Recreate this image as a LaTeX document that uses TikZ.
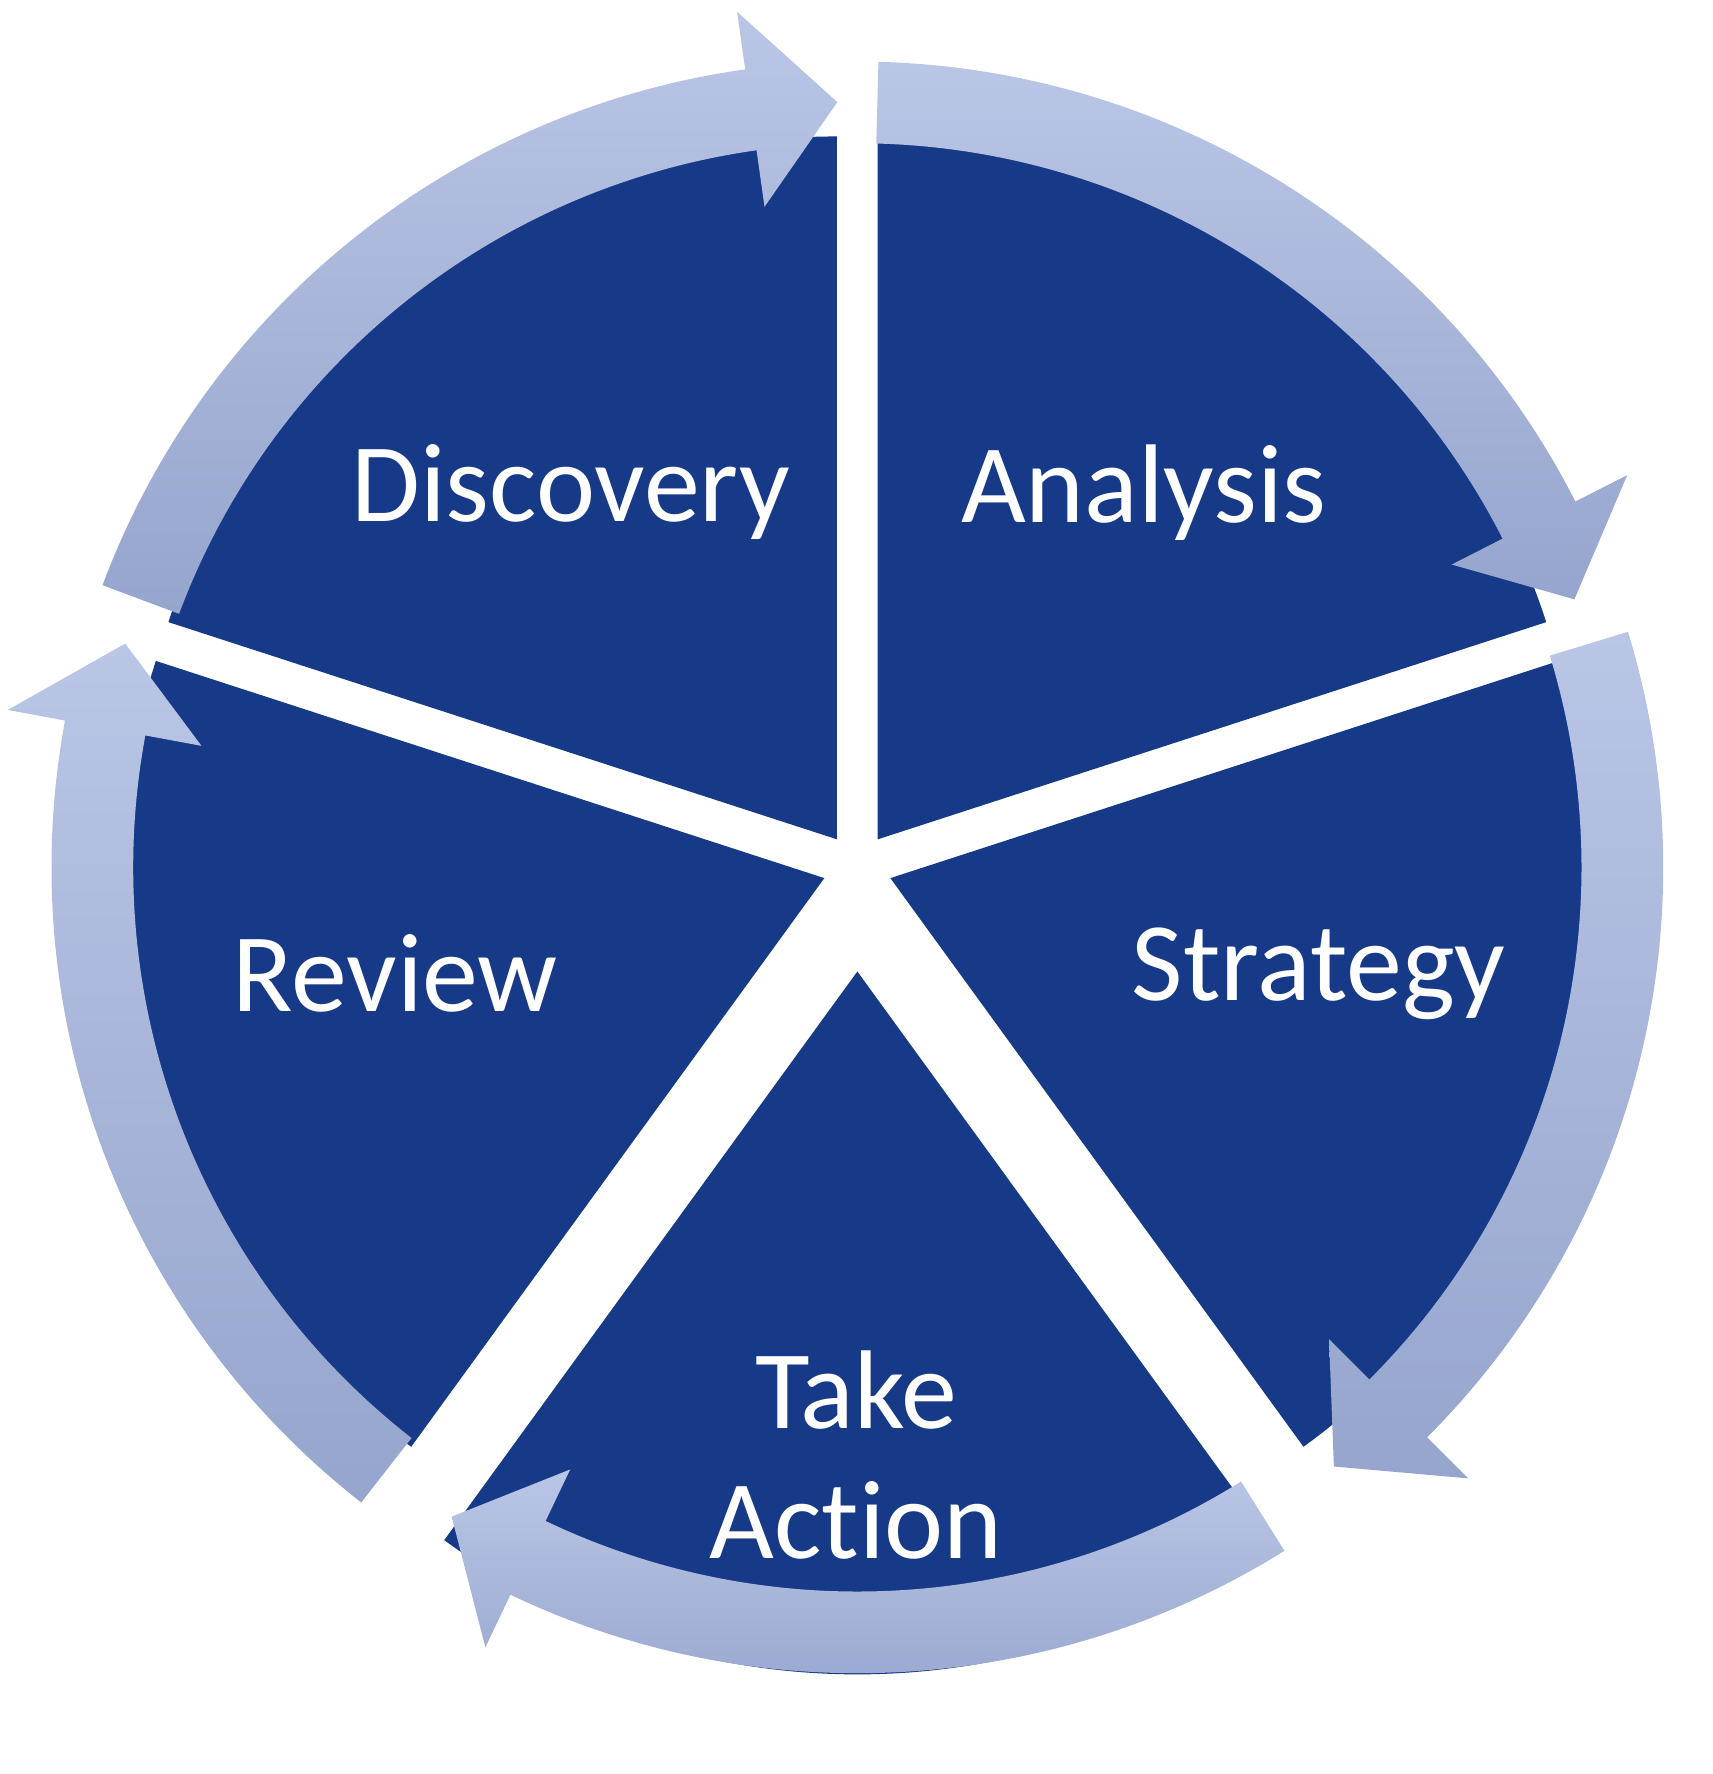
\documentclass[tikz,border=0pt]{standalone}
\usepackage{fontspec}
\setmainfont[Ligatures=NoCommon]{Carlito}
\usetikzlibrary{calc}
\begin{document}
\begin{tikzpicture}[x=0.5pt,y=0.5pt,
  wedge/.style={fill={rgb,255:red,23;green,58;blue,136}},
  ring/.style={top color={rgb,255:red,186;green,198;blue,230},bottom color={rgb,255:red,150;green,165;blue,205},draw=none},
  lbl/.style={text=white,font=\fontsize{50}{58}\selectfont,align=center}]
\useasboundingbox (0,0) rectangle (1530,1585);
\coordinate (c) at (766,810);

% Wedges
\foreach \bis/\d [count=\i] in {126/31,54/31,-18/31,-90/93,198/31}{
  \fill[wedge] ($(c)+(\bis:\d)$) coordinate (w\i) -- +(\bis-36:628) arc[start angle=\bis-36,end angle=\bis+36,radius=628] -- cycle;
}

% Ring arrows
\begin{scope}[shift={(c)}]
\foreach \a/\t in {159.5/91.5,88.5/20.5,17/-51.5,-58/-122,-128/-197}{
  \path[ring] (\a:720) arc[start angle=\a,end angle=\t+6.5,radius=720]
    -- (\t+6.5:772) -- (\t:684) -- (\t+6.5:596) -- (\t+6.5:647)
    arc[start angle=\t+6.5,end angle=\a,radius=647] -- cycle;
}
\end{scope}

% Text Node
\node[lbl] (discovery) at (510,1145) {Discovery};
% Text Node
\node[lbl] (analysis) at (1022,1145) {Analysis};
% Text Node
\node[lbl] (review) at (353,715) {Review};
% Text Node
\node[lbl] (strategy) at (1178,715) {Strategy};
% Text Node
\node[lbl] (action) at (765,285) {Take\\Action};
\end{tikzpicture}
\end{document}
